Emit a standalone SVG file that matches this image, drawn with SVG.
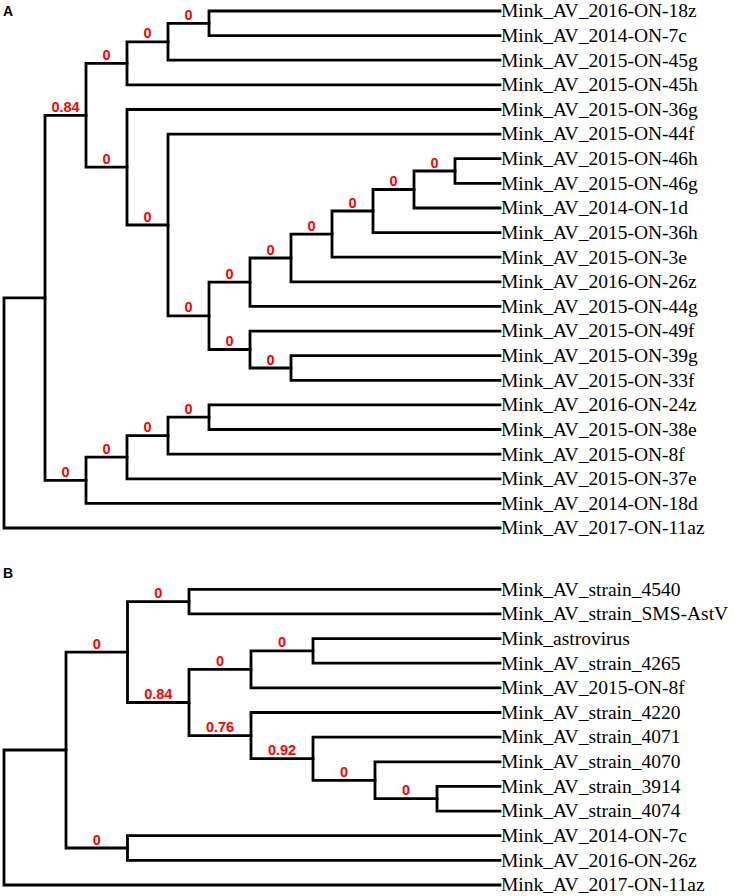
<svg xmlns="http://www.w3.org/2000/svg" width="737" height="896" viewBox="0 0 737 896">
<style>
.br{fill:none;stroke:#000;stroke-width:2.8;stroke-linejoin:miter;stroke-linecap:square}
.lf{font-family:"Liberation Serif","Times New Roman",serif;font-size:19.5px;fill:#000}
.sp{font-family:"Liberation Sans",Arial,sans-serif;font-size:14.5px;font-weight:bold;fill:#f00;text-anchor:middle}
.pl{font-family:"Liberation Sans",Arial,sans-serif;font-size:14px;font-weight:bold;fill:#000}
</style>
<rect width="737" height="896" fill="#fff"/>
<text class="pl" x="3" y="16">A</text>
<text class="pl" x="3" y="578">B</text>
<g id="connectors">
<!-- Panel A -->
<path class="br" d="M45 297.8H4V528H500"/>
<path class="br" d="M86 115.3H45V480.3H86"/>
<path class="br" d="M127 63.3H86V167.2H127"/>
<path class="br" d="M168 41.8H127V84.9H500"/>
<path class="br" d="M209 23.3H168V60.2H500"/>
<path class="br" d="M500 11H209V35.6H500"/>
<path class="br" d="M500 109.5H127V225H168"/>
<path class="br" d="M500 134.1H168V315.9H209"/>
<path class="br" d="M250 282.2H209V349.5H250"/>
<path class="br" d="M291 258H250V306.4H500"/>
<path class="br" d="M332 234.1H291V281.8H500"/>
<path class="br" d="M373 211H332V257.2H500"/>
<path class="br" d="M414 189.5H373V232.6H500"/>
<path class="br" d="M455 171H414V208H500"/>
<path class="br" d="M500 158.7H455V183.3H500"/>
<path class="br" d="M500 331.1H250V368H291"/>
<path class="br" d="M500 355.7H291V380.3H500"/>
<path class="br" d="M127 457.2H86V503.4H500"/>
<path class="br" d="M168 435.7H127V478.8H500"/>
<path class="br" d="M209 417.2H168V454.2H500"/>
<path class="br" d="M500 404.9H209V429.5H500"/>
<!-- Panel B -->
<path class="br" d="M66 750H4V885H500"/>
<path class="br" d="M127.5 652.1H66V848H127.5"/>
<path class="br" d="M189 601.6H127.5V702.5H189"/>
<path class="br" d="M500 589.3H189V613.9H500"/>
<path class="br" d="M251 669.4H189V735.6H251"/>
<path class="br" d="M313 650.9H251V687.9H500"/>
<path class="br" d="M500 638.6H313V663.2H500"/>
<path class="br" d="M500 712.5H251V758.7H313"/>
<path class="br" d="M500 737.1H313V780.3H375"/>
<path class="br" d="M500 761.8H375V798.7H437"/>
<path class="br" d="M500 786.4H437V811.1H500"/>
<path class="br" d="M500 835.7H127.5V860.3H500"/>
</g>
<g id="support-A">
<text class="sp" x="188.5" y="19.8">0</text>
<text class="sp" x="147.5" y="38.3">0</text>
<text class="sp" x="106.5" y="59.8">0</text>
<text class="sp" x="65.5" y="111.8">0.84</text>
<text class="sp" x="106.5" y="163.7">0</text>
<text class="sp" x="147.5" y="221.5">0</text>
<text class="sp" x="188.5" y="312.4">0</text>
<text class="sp" x="229.5" y="278.7">0</text>
<text class="sp" x="270.5" y="254.5">0</text>
<text class="sp" x="311.5" y="230.6">0</text>
<text class="sp" x="352.5" y="207.5">0</text>
<text class="sp" x="393.5" y="186">0</text>
<text class="sp" x="434.5" y="167.5">0</text>
<text class="sp" x="229.5" y="346">0</text>
<text class="sp" x="270.5" y="364.5">0</text>
<text class="sp" x="65.5" y="476.8">0</text>
<text class="sp" x="106.5" y="453.7">0</text>
<text class="sp" x="147.5" y="432.2">0</text>
<text class="sp" x="188.5" y="413.7">0</text>
</g>
<g id="support-B">
<text class="sp" x="158.3" y="598.1">0</text>
<text class="sp" x="96.8" y="648.6">0</text>
<text class="sp" x="158.3" y="699">0.84</text>
<text class="sp" x="220" y="665.9">0</text>
<text class="sp" x="282" y="647.4">0</text>
<text class="sp" x="220" y="732.1">0.76</text>
<text class="sp" x="282" y="755.2">0.92</text>
<text class="sp" x="344" y="776.8">0</text>
<text class="sp" x="406" y="795.2">0</text>
<text class="sp" x="96.8" y="844.5">0</text>
</g>
<g id="leaves-A">
<g id="a0"><text class="lf" x="501" y="17.3">Mink_AV_2016-ON-18z</text></g>
<g id="a1"><text class="lf" x="501" y="41.9">Mink_AV_2014-ON-7c</text></g>
<g id="a2"><text class="lf" x="501" y="66.5">Mink_AV_2015-ON-45g</text></g>
<g id="a3"><text class="lf" x="501" y="91.2">Mink_AV_2015-ON-45h</text></g>
<g id="a4"><text class="lf" x="501" y="115.8">Mink_AV_2015-ON-36g</text></g>
<g id="a5"><text class="lf" x="501" y="140.4">Mink_AV_2015-ON-44f</text></g>
<g id="a6"><text class="lf" x="501" y="165">Mink_AV_2015-ON-46h</text></g>
<g id="a7"><text class="lf" x="501" y="189.6">Mink_AV_2015-ON-46g</text></g>
<g id="a8"><text class="lf" x="501" y="214.3">Mink_AV_2014-ON-1d</text></g>
<g id="a9"><text class="lf" x="501" y="238.9">Mink_AV_2015-ON-36h</text></g>
<g id="a10"><text class="lf" x="501" y="263.5">Mink_AV_2015-ON-3e</text></g>
<g id="a11"><text class="lf" x="501" y="288.1">Mink_AV_2016-ON-26z</text></g>
<g id="a12"><text class="lf" x="501" y="312.7">Mink_AV_2015-ON-44g</text></g>
<g id="a13"><text class="lf" x="501" y="337.4">Mink_AV_2015-ON-49f</text></g>
<g id="a14"><text class="lf" x="501" y="362">Mink_AV_2015-ON-39g</text></g>
<g id="a15"><text class="lf" x="501" y="386.6">Mink_AV_2015-ON-33f</text></g>
<g id="a16"><text class="lf" x="501" y="411.2">Mink_AV_2016-ON-24z</text></g>
<g id="a17"><text class="lf" x="501" y="435.8">Mink_AV_2015-ON-38e</text></g>
<g id="a18"><text class="lf" x="501" y="460.5">Mink_AV_2015-ON-8f</text></g>
<g id="a19"><text class="lf" x="501" y="485.1">Mink_AV_2015-ON-37e</text></g>
<g id="a20"><text class="lf" x="501" y="509.7">Mink_AV_2014-ON-18d</text></g>
<g id="a21"><text class="lf" x="501" y="534.3">Mink_AV_2017-ON-11az</text></g>
</g>
<g id="leaves-B">
<g id="b0"><text class="lf" x="501" y="595.6">Mink_AV_strain_4540</text></g>
<g id="b1"><text class="lf" x="501" y="620.2">Mink_AV_strain_SMS-AstV</text></g>
<g id="b2"><text class="lf" x="501" y="644.9">Mink_astrovirus</text></g>
<g id="b3"><text class="lf" x="501" y="669.5">Mink_AV_strain_4265</text></g>
<g id="b4"><text class="lf" x="501" y="694.2">Mink_AV_2015-ON-8f</text></g>
<g id="b5"><text class="lf" x="501" y="718.8">Mink_AV_strain_4220</text></g>
<g id="b6"><text class="lf" x="501" y="743.4">Mink_AV_strain_4071</text></g>
<g id="b7"><text class="lf" x="501" y="768.1">Mink_AV_strain_4070</text></g>
<g id="b8"><text class="lf" x="501" y="792.7">Mink_AV_strain_3914</text></g>
<g id="b9"><text class="lf" x="501" y="817.4">Mink_AV_strain_4074</text></g>
<g id="b10"><text class="lf" x="501" y="842">Mink_AV_2014-ON-7c</text></g>
<g id="b11"><text class="lf" x="501" y="866.6">Mink_AV_2016-ON-26z</text></g>
<g id="b12"><text class="lf" x="501" y="891.3">Mink_AV_2017-ON-11az</text></g>
</g>
</svg>
